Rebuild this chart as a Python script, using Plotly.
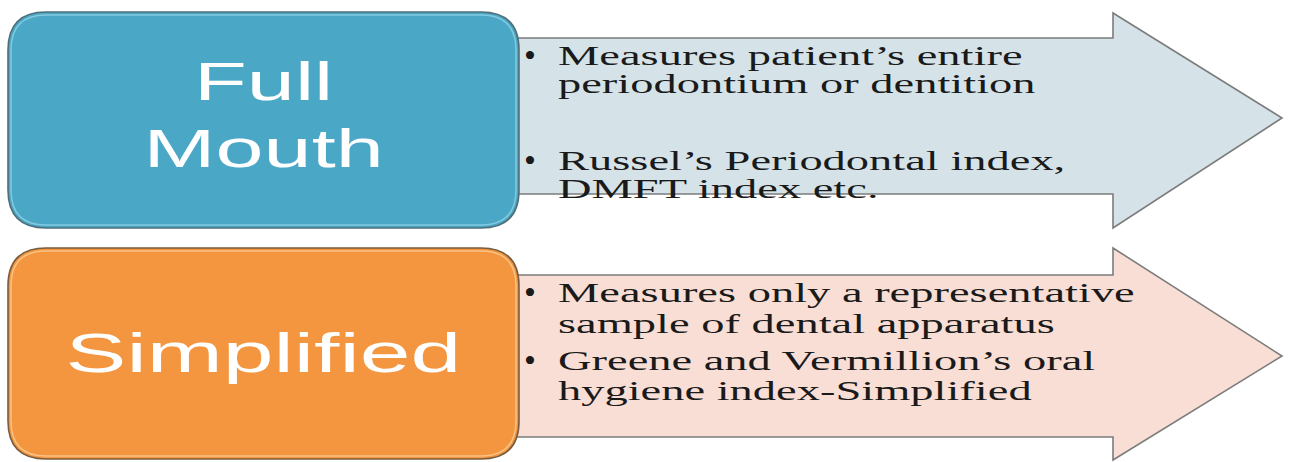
import plotly.graph_objects as go

# ---- content ----
categories = ["Full Mouth", "Simplified"]
label_lines = [["Full", "Mouth"], ["Simplified"]]
bullet_lines = [
    [["Measures patient’s entire", "periodontium or dentition"],
     ["Russel’s Periodontal index,", "DMFT index etc."]],
    [["Measures only a representative", "sample of dental apparatus"],
     ["Greene and Vermillion’s oral", "hygiene index-Simplified"]],
]

# ---- layout / style constants ----
W, H = 1289, 462
box_fill = ["#4AA8C6", "#F3963F"]
box_line = ["#4F6E78", "#7A5C3E"]
box_glow = ["#9BD8EA", "#FBD6A2"]
arrow_fill = ["#D5E3E9", "#F8DED5"]
arrow_line = "#7C7C7C"

box_x = (8, 519)
box_y = [(12, 228), (248, 459)]
radius = 38
arrow_x0, head_x, tip_x = 470, 1113, 1282
body_y = [(38, 194), (275, 437)]
head_y = [(13, 228), (248, 460)]
tip_y = [118, 356]

label_y = [[81, 148], [352]]
label_size = [53, 56]
bullet_x, text_x = 530, 556
line_y = [[[55.5, 83.5], [160.5, 188.5]], [[292.5, 323.5], [360.5, 390.5]]]
text_size = 28


def rrect(x0, y0, x1, y1, r):
    return (f"M{x0+r},{y0} L{x1-r},{y0} Q{x1},{y0} {x1},{y0+r} "
            f"L{x1},{y1-r} Q{x1},{y1} {x1-r},{y1} L{x0+r},{y1} "
            f"Q{x0},{y1} {x0},{y1-r} L{x0},{y0+r} Q{x0},{y0} {x0+r},{y0} Z")


def arrow(i):
    b0, b1 = body_y[i]
    h0, h1 = head_y[i]
    return (f"M{arrow_x0},{b0} L{head_x},{b0} L{head_x},{h0} L{tip_x},{tip_y[i]} "
            f"L{head_x},{h1} L{head_x},{b1} L{arrow_x0},{b1} Z")


shapes = []
annotations = []
for i, cat in enumerate(categories):
    shapes.append(dict(type="path", path=arrow(i), xref="x", yref="y",
                       fillcolor=arrow_fill[i], line=dict(color=arrow_line, width=1.6),
                       layer="below"))
for i, cat in enumerate(categories):
    y0, y1 = box_y[i]
    x0, x1 = box_x
    shapes.append(dict(type="path", path=rrect(x0, y0, x1, y1, radius), xref="x", yref="y",
                       fillcolor=box_fill[i], line=dict(color=box_line[i], width=1.6),
                       layer="below"))
    shapes.append(dict(type="path", path=rrect(x0 + 3, y0 + 3, x1 - 3, y1 - 3, radius - 3),
                       xref="x", yref="y", fillcolor="rgba(0,0,0,0)",
                       line=dict(color=box_glow[i], width=1.5), opacity=0.7, layer="below"))
    for txt, yy in zip(label_lines[i], label_y[i]):
        annotations.append(dict(x=(x0 + x1) / 2, y=yy, xref="x", yref="y", text=txt,
                                showarrow=False, xanchor="center", yanchor="middle",
                                align="center",
                                font=dict(family="Liberation Sans", size=label_size[i],
                                          color="#FFFFFF")))
    for bl, ys in zip(bullet_lines[i], line_y[i]):
        annotations.append(dict(x=bullet_x, y=ys[0], xref="x", yref="y", text="•",
                                showarrow=False, xanchor="center", yanchor="middle",
                                align="center",
                                font=dict(family="Liberation Serif", size=34,
                                          color="#1A1A1A")))
        for txt, yy in zip(bl, ys):
            annotations.append(dict(x=text_x, y=yy, xref="x", yref="y", text=txt,
                                    showarrow=False, xanchor="left", yanchor="middle",
                                    align="left",
                                    font=dict(family="Liberation Serif", size=text_size,
                                              color="#1A1A1A")))

fig = go.Figure()
fig.add_trace(go.Scatter(x=[0, W], y=[0, H], mode="markers",
                         marker=dict(opacity=0), hoverinfo="skip", showlegend=False))
fig.update_layout(
    width=W, height=H, margin=dict(l=0, r=0, t=0, b=0),
    paper_bgcolor="white", plot_bgcolor="white",
    xaxis=dict(range=[0, W], visible=False, fixedrange=True),
    yaxis=dict(range=[H, 0], visible=False, fixedrange=True),
    shapes=shapes, annotations=annotations, showlegend=False,
)

post = """
document.body.style.margin = '0';
document.body.style.padding = '0';
document.body.style.overflow = 'hidden';
var gd = document.getElementById('{plot_id}');
function stretchText(){
  gd.querySelectorAll('.annotation-text').forEach(function(t){
    var s = (t.textContent || '').trim();
    if (s === '\\u2022') return;
    var fam = (t.style.fontFamily || '');
    var sx = fam.indexOf('Serif') >= 0 ? 1.66 : 1.63;
    var anchor = t.getAttribute('text-anchor');
    t.style.transformBox = 'fill-box';
    t.style.transformOrigin = (anchor === 'start') ? '0% 50%' : '50% 50%';
    t.style.transform = 'scaleX(' + sx + ')';
  });
}
stretchText();
if (gd.on) { gd.on('plotly_afterplot', stretchText); }
"""

fig.write_html("out.html", post_script=post, config=dict(displayModeBar=False, staticPlot=True))
